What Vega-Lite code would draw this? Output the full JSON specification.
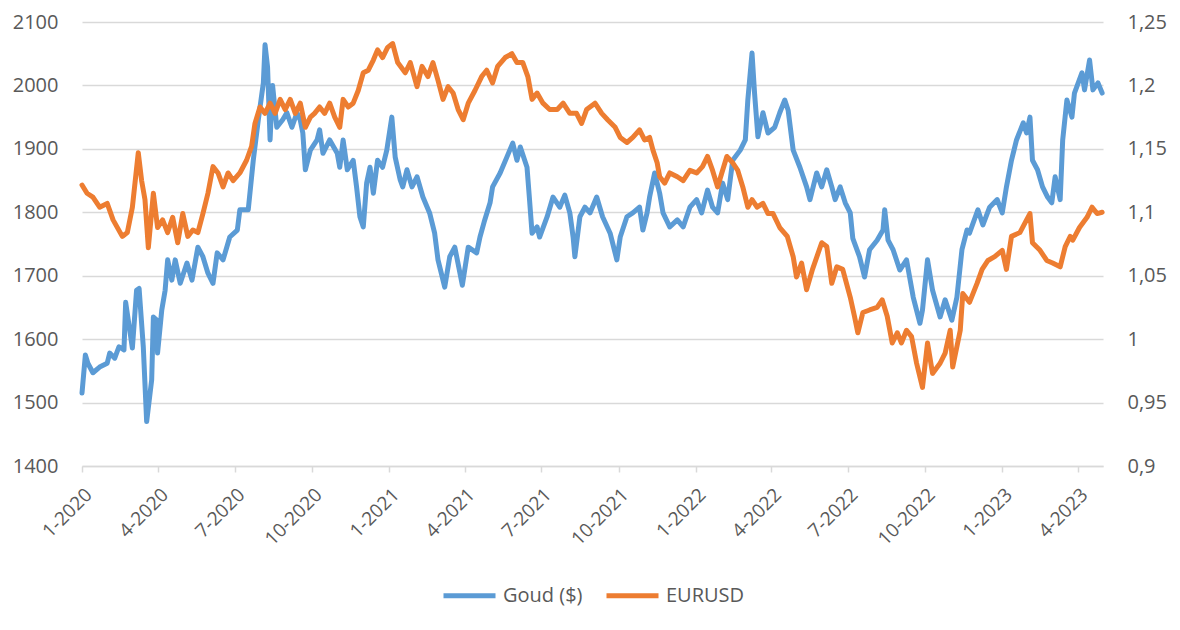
{
  "$schema": "https://vega.github.io/schema/vega-lite/v6.json",
  "width": 1021,
  "height": 444,
  "autosize": {"type": "none"},
  "padding": {"left": 82, "top": 22, "right": 77, "bottom": 164},
  "background": "white",
  "config": {"font": "Open Sans", "view": {"stroke": null}},
  "datasets": {
    "goud": [
      {"date":"2020-01-01","value":1515},{"date":"2020-01-05","value":1575},{"date":"2020-01-08","value":1562},{"date":"2020-01-14","value":1547},
      {"date":"2020-01-22","value":1556},{"date":"2020-01-31","value":1562},{"date":"2020-02-03","value":1578},{"date":"2020-02-09","value":1570},
      {"date":"2020-02-14","value":1588},{"date":"2020-02-20","value":1583},{"date":"2020-02-22","value":1658},{"date":"2020-03-01","value":1586},
      {"date":"2020-03-06","value":1677},{"date":"2020-03-09","value":1680},{"date":"2020-03-14","value":1588},{"date":"2020-03-18","value":1470},
      {"date":"2020-03-24","value":1536},{"date":"2020-03-26","value":1635},{"date":"2020-03-30","value":1630},{"date":"2020-03-31","value":1578},
      {"date":"2020-04-05","value":1646},{"date":"2020-04-09","value":1677},{"date":"2020-04-12","value":1725},{"date":"2020-04-17","value":1693},
      {"date":"2020-04-21","value":1725},{"date":"2020-04-27","value":1688},{"date":"2020-05-05","value":1720},{"date":"2020-05-11","value":1693},
      {"date":"2020-05-18","value":1745},{"date":"2020-05-24","value":1730},{"date":"2020-05-30","value":1704},{"date":"2020-06-05","value":1688},
      {"date":"2020-06-10","value":1736},{"date":"2020-06-17","value":1725},{"date":"2020-06-25","value":1761},{"date":"2020-07-04","value":1772},
      {"date":"2020-07-07","value":1804},{"date":"2020-07-17","value":1804},{"date":"2020-07-23","value":1882},{"date":"2020-07-29","value":1946},
      {"date":"2020-08-04","value":2004},{"date":"2020-08-06","value":2064},{"date":"2020-08-09","value":2029},{"date":"2020-08-12","value":1914},
      {"date":"2020-08-15","value":2000},{"date":"2020-08-20","value":1934},{"date":"2020-08-27","value":1946},{"date":"2020-09-01","value":1957},
      {"date":"2020-09-07","value":1934},{"date":"2020-09-13","value":1957},{"date":"2020-09-17","value":1945},{"date":"2020-09-20","value":1925},
      {"date":"2020-09-23","value":1867},{"date":"2020-09-29","value":1898},{"date":"2020-10-07","value":1914},{"date":"2020-10-10","value":1930},
      {"date":"2020-10-14","value":1893},{"date":"2020-10-22","value":1914},{"date":"2020-10-31","value":1893},{"date":"2020-11-03","value":1871},
      {"date":"2020-11-07","value":1914},{"date":"2020-11-12","value":1867},{"date":"2020-11-19","value":1882},{"date":"2020-11-23","value":1840},
      {"date":"2020-11-27","value":1793},{"date":"2020-12-01","value":1777},{"date":"2020-12-05","value":1846},{"date":"2020-12-09","value":1871},
      {"date":"2020-12-13","value":1830},{"date":"2020-12-18","value":1882},{"date":"2020-12-24","value":1871},{"date":"2020-12-29","value":1898},
      {"date":"2021-01-04","value":1950},{"date":"2021-01-08","value":1887},{"date":"2021-01-14","value":1851},{"date":"2021-01-17","value":1840},
      {"date":"2021-01-22","value":1867},{"date":"2021-01-28","value":1840},{"date":"2021-02-03","value":1856},{"date":"2021-02-10","value":1824},
      {"date":"2021-02-18","value":1799},{"date":"2021-02-24","value":1767},{"date":"2021-02-28","value":1725},{"date":"2021-03-08","value":1682},
      {"date":"2021-03-14","value":1730},{"date":"2021-03-20","value":1745},{"date":"2021-03-29","value":1685},{"date":"2021-04-05","value":1745},
      {"date":"2021-04-15","value":1736},{"date":"2021-04-19","value":1761},{"date":"2021-04-24","value":1785},{"date":"2021-05-01","value":1815},
      {"date":"2021-05-04","value":1840},{"date":"2021-05-13","value":1862},{"date":"2021-05-21","value":1887},{"date":"2021-05-28","value":1909},
      {"date":"2021-06-02","value":1882},{"date":"2021-06-06","value":1903},{"date":"2021-06-14","value":1871},{"date":"2021-06-17","value":1820},
      {"date":"2021-06-20","value":1767},{"date":"2021-06-26","value":1777},{"date":"2021-06-29","value":1761},{"date":"2021-07-08","value":1793},
      {"date":"2021-07-15","value":1824},{"date":"2021-07-23","value":1808},{"date":"2021-07-29","value":1827},{"date":"2021-08-04","value":1799},
      {"date":"2021-08-08","value":1760},{"date":"2021-08-10","value":1730},{"date":"2021-08-16","value":1793},{"date":"2021-08-22","value":1808},
      {"date":"2021-08-28","value":1799},{"date":"2021-09-05","value":1824},{"date":"2021-09-12","value":1793},{"date":"2021-09-21","value":1767},
      {"date":"2021-09-29","value":1725},{"date":"2021-10-03","value":1761},{"date":"2021-10-11","value":1793},{"date":"2021-10-18","value":1799},
      {"date":"2021-10-26","value":1808},{"date":"2021-10-30","value":1772},{"date":"2021-11-04","value":1799},{"date":"2021-11-07","value":1824},
      {"date":"2021-11-13","value":1862},{"date":"2021-11-19","value":1830},{"date":"2021-11-23","value":1799},{"date":"2021-12-01","value":1777},
      {"date":"2021-12-10","value":1788},{"date":"2021-12-17","value":1777},{"date":"2021-12-25","value":1808},{"date":"2022-01-02","value":1820},
      {"date":"2022-01-08","value":1799},{"date":"2022-01-15","value":1835},{"date":"2022-01-21","value":1808},{"date":"2022-01-27","value":1799},
      {"date":"2022-02-02","value":1846},{"date":"2022-02-08","value":1820},{"date":"2022-02-14","value":1882},{"date":"2022-02-23","value":1898},
      {"date":"2022-03-01","value":1914},{"date":"2022-03-04","value":1977},{"date":"2022-03-09","value":2051},{"date":"2022-03-12","value":1988},
      {"date":"2022-03-16","value":1919},{"date":"2022-03-22","value":1957},{"date":"2022-03-28","value":1925},{"date":"2022-04-05","value":1934},
      {"date":"2022-04-11","value":1957},{"date":"2022-04-17","value":1977},{"date":"2022-04-21","value":1961},{"date":"2022-04-27","value":1898},
      {"date":"2022-05-05","value":1871},{"date":"2022-05-13","value":1840},{"date":"2022-05-17","value":1820},{"date":"2022-05-25","value":1862},
      {"date":"2022-05-31","value":1840},{"date":"2022-06-06","value":1867},{"date":"2022-06-12","value":1840},{"date":"2022-06-16","value":1820},
      {"date":"2022-06-22","value":1840},{"date":"2022-06-28","value":1815},{"date":"2022-07-04","value":1799},{"date":"2022-07-07","value":1759},
      {"date":"2022-07-15","value":1730},{"date":"2022-07-21","value":1698},{"date":"2022-07-27","value":1741},{"date":"2022-08-05","value":1756},
      {"date":"2022-08-12","value":1772},{"date":"2022-08-14","value":1804},{"date":"2022-08-18","value":1756},{"date":"2022-08-24","value":1741},
      {"date":"2022-09-01","value":1709},{"date":"2022-09-09","value":1725},{"date":"2022-09-17","value":1666},{"date":"2022-09-25","value":1625},
      {"date":"2022-09-28","value":1646},{"date":"2022-10-04","value":1725},{"date":"2022-10-10","value":1677},{"date":"2022-10-19","value":1635},
      {"date":"2022-10-25","value":1662},{"date":"2022-11-02","value":1630},{"date":"2022-11-08","value":1666},{"date":"2022-11-14","value":1741},
      {"date":"2022-11-20","value":1772},{"date":"2022-11-23","value":1767},{"date":"2022-12-03","value":1804},{"date":"2022-12-09","value":1780},
      {"date":"2022-12-17","value":1808},{"date":"2022-12-26","value":1820},{"date":"2023-01-01","value":1799},{"date":"2023-01-06","value":1840},
      {"date":"2023-01-12","value":1882},{"date":"2023-01-18","value":1914},{"date":"2023-01-26","value":1941},{"date":"2023-01-30","value":1925},
      {"date":"2023-02-03","value":1950},{"date":"2023-02-06","value":1882},{"date":"2023-02-12","value":1867},{"date":"2023-02-18","value":1840},
      {"date":"2023-02-24","value":1824},{"date":"2023-03-01","value":1815},{"date":"2023-03-05","value":1856},{"date":"2023-03-11","value":1820},
      {"date":"2023-03-14","value":1914},{"date":"2023-03-19","value":1977},{"date":"2023-03-25","value":1950},{"date":"2023-03-28","value":1988},
      {"date":"2023-04-06","value":2020},{"date":"2023-04-09","value":1993},{"date":"2023-04-15","value":2040},{"date":"2023-04-19","value":1993},
      {"date":"2023-04-25","value":2004},{"date":"2023-04-30","value":1988}
    ],
    "eurusd": [
      {"date":"2020-01-01","value":1.1215},{"date":"2020-01-07","value":1.115},{"date":"2020-01-14","value":1.112},{"date":"2020-01-22","value":1.104},
      {"date":"2020-01-31","value":1.107},{"date":"2020-02-07","value":1.094},{"date":"2020-02-18","value":1.081},{"date":"2020-02-24","value":1.084},
      {"date":"2020-03-01","value":1.104},{"date":"2020-03-08","value":1.147},{"date":"2020-03-12","value":1.125},{"date":"2020-03-16","value":1.110},
      {"date":"2020-03-20","value":1.072},{"date":"2020-03-26","value":1.115},{"date":"2020-03-31","value":1.088},{"date":"2020-04-06","value":1.094},
      {"date":"2020-04-12","value":1.084},{"date":"2020-04-18","value":1.096},{"date":"2020-04-24","value":1.076},{"date":"2020-04-30","value":1.099},
      {"date":"2020-05-06","value":1.081},{"date":"2020-05-12","value":1.086},{"date":"2020-05-18","value":1.084},{"date":"2020-05-24","value":1.099},
      {"date":"2020-05-30","value":1.115},{"date":"2020-06-05","value":1.136},{"date":"2020-06-11","value":1.131},{"date":"2020-06-17","value":1.120},
      {"date":"2020-06-23","value":1.131},{"date":"2020-06-29","value":1.125},{"date":"2020-07-07","value":1.131},{"date":"2020-07-15","value":1.141},
      {"date":"2020-07-21","value":1.152},{"date":"2020-07-25","value":1.170},{"date":"2020-07-31","value":1.183},{"date":"2020-08-06","value":1.178},
      {"date":"2020-08-12","value":1.186},{"date":"2020-08-18","value":1.178},{"date":"2020-08-24","value":1.189},{"date":"2020-08-30","value":1.181},
      {"date":"2020-09-05","value":1.189},{"date":"2020-09-11","value":1.178},{"date":"2020-09-17","value":1.186},{"date":"2020-09-23","value":1.167},
      {"date":"2020-09-29","value":1.175},{"date":"2020-10-04","value":1.178},{"date":"2020-10-10","value":1.183},{"date":"2020-10-16","value":1.178},
      {"date":"2020-10-22","value":1.186},{"date":"2020-10-28","value":1.175},{"date":"2020-11-03","value":1.167},{"date":"2020-11-07","value":1.189},
      {"date":"2020-11-13","value":1.183},{"date":"2020-11-19","value":1.186},{"date":"2020-11-25","value":1.196},{"date":"2020-12-01","value":1.210},
      {"date":"2020-12-07","value":1.212},{"date":"2020-12-13","value":1.220},{"date":"2020-12-18","value":1.228},{"date":"2020-12-24","value":1.222},
      {"date":"2020-12-30","value":1.230},{"date":"2021-01-05","value":1.233},{"date":"2021-01-11","value":1.218},{"date":"2021-01-20","value":1.210},
      {"date":"2021-01-26","value":1.218},{"date":"2021-02-03","value":1.199},{"date":"2021-02-09","value":1.215},{"date":"2021-02-16","value":1.207},
      {"date":"2021-02-22","value":1.218},{"date":"2021-02-28","value":1.204},{"date":"2021-03-06","value":1.189},{"date":"2021-03-12","value":1.199},
      {"date":"2021-03-18","value":1.194},{"date":"2021-03-24","value":1.181},{"date":"2021-03-30","value":1.173},{"date":"2021-04-05","value":1.186},
      {"date":"2021-04-13","value":1.196},{"date":"2021-04-21","value":1.207},{"date":"2021-04-27","value":1.212},{"date":"2021-05-04","value":1.202},
      {"date":"2021-05-10","value":1.215},{"date":"2021-05-19","value":1.222},{"date":"2021-05-27","value":1.225},{"date":"2021-06-02","value":1.218},
      {"date":"2021-06-09","value":1.218},{"date":"2021-06-15","value":1.207},{"date":"2021-06-20","value":1.189},{"date":"2021-06-26","value":1.194},
      {"date":"2021-07-03","value":1.186},{"date":"2021-07-11","value":1.181},{"date":"2021-07-20","value":1.181},{"date":"2021-07-27","value":1.186},
      {"date":"2021-08-04","value":1.178},{"date":"2021-08-12","value":1.178},{"date":"2021-08-18","value":1.170},{"date":"2021-08-24","value":1.181},
      {"date":"2021-09-03","value":1.186},{"date":"2021-09-11","value":1.178},{"date":"2021-09-18","value":1.173},{"date":"2021-09-27","value":1.167},
      {"date":"2021-10-03","value":1.159},{"date":"2021-10-11","value":1.155},{"date":"2021-10-18","value":1.159},{"date":"2021-10-26","value":1.165},
      {"date":"2021-11-01","value":1.157},{"date":"2021-11-07","value":1.159},{"date":"2021-11-11","value":1.149},{"date":"2021-11-16","value":1.139},
      {"date":"2021-11-19","value":1.128},{"date":"2021-11-25","value":1.123},{"date":"2021-12-01","value":1.131},{"date":"2021-12-10","value":1.128},
      {"date":"2021-12-17","value":1.125},{"date":"2021-12-25","value":1.133},{"date":"2022-01-02","value":1.131},{"date":"2022-01-09","value":1.136},
      {"date":"2022-01-15","value":1.144},{"date":"2022-01-21","value":1.133},{"date":"2022-01-27","value":1.120},{"date":"2022-02-01","value":1.131},
      {"date":"2022-02-07","value":1.144},{"date":"2022-02-14","value":1.139},{"date":"2022-02-20","value":1.133},{"date":"2022-02-26","value":1.120},
      {"date":"2022-03-04","value":1.104},{"date":"2022-03-09","value":1.110},{"date":"2022-03-15","value":1.104},{"date":"2022-03-22","value":1.107},
      {"date":"2022-03-28","value":1.099},{"date":"2022-04-03","value":1.099},{"date":"2022-04-11","value":1.088},{"date":"2022-04-20","value":1.081},
      {"date":"2022-04-27","value":1.065},{"date":"2022-05-01","value":1.049},{"date":"2022-05-07","value":1.060},{"date":"2022-05-13","value":1.039},
      {"date":"2022-05-20","value":1.055},{"date":"2022-05-31","value":1.076},{"date":"2022-06-06","value":1.073},{"date":"2022-06-12","value":1.044},
      {"date":"2022-06-18","value":1.057},{"date":"2022-06-25","value":1.055},{"date":"2022-07-04","value":1.033},{"date":"2022-07-09","value":1.018},
      {"date":"2022-07-13","value":1.005},{"date":"2022-07-19","value":1.021},{"date":"2022-07-27","value":1.023},{"date":"2022-08-05","value":1.025},
      {"date":"2022-08-11","value":1.031},{"date":"2022-08-17","value":1.018},{"date":"2022-08-23","value":0.997},{"date":"2022-08-29","value":1.005},
      {"date":"2022-09-03","value":0.997},{"date":"2022-09-09","value":1.007},{"date":"2022-09-15","value":1.002},{"date":"2022-09-21","value":0.981},
      {"date":"2022-09-28","value":0.962},{"date":"2022-10-04","value":0.997},{"date":"2022-10-10","value":0.973},{"date":"2022-10-19","value":0.981},
      {"date":"2022-10-25","value":0.989},{"date":"2022-10-31","value":1.007},{"date":"2022-11-03","value":0.978},{"date":"2022-11-12","value":1.007},
      {"date":"2022-11-15","value":1.036},{"date":"2022-11-23","value":1.029},{"date":"2022-12-02","value":1.044},{"date":"2022-12-08","value":1.055},
      {"date":"2022-12-15","value":1.062},{"date":"2022-12-23","value":1.065},{"date":"2023-01-01","value":1.070},{"date":"2023-01-06","value":1.055},
      {"date":"2023-01-12","value":1.081},{"date":"2023-01-22","value":1.084},{"date":"2023-01-30","value":1.094},{"date":"2023-02-03","value":1.099},
      {"date":"2023-02-06","value":1.076},{"date":"2023-02-15","value":1.070},{"date":"2023-02-23","value":1.062},{"date":"2023-03-02","value":1.060},
      {"date":"2023-03-11","value":1.057},{"date":"2023-03-17","value":1.073},{"date":"2023-03-23","value":1.081},{"date":"2023-03-26","value":1.078},
      {"date":"2023-04-03","value":1.088},{"date":"2023-04-12","value":1.096},{"date":"2023-04-18","value":1.104},{"date":"2023-04-24","value":1.099},
      {"date":"2023-04-30","value":1.100}
    ]
  },
  "encoding": {
    "x": {
      "field": "date",
      "type": "temporal",
      "scale": {
        "type": "utc",
        "domain": [{"year": 2020, "month": 1, "date": 1, "utc": true}, {"year": 2023, "month": 5, "date": 1, "utc": true}]
      },
      "axis": {
        "title": null,
        "grid": false,
        "values": [
          {"year": 2020, "month": 1, "date": 1, "utc": true}, {"year": 2020, "month": 4, "date": 1, "utc": true},
          {"year": 2020, "month": 7, "date": 1, "utc": true}, {"year": 2020, "month": 10, "date": 1, "utc": true},
          {"year": 2021, "month": 1, "date": 1, "utc": true}, {"year": 2021, "month": 4, "date": 1, "utc": true},
          {"year": 2021, "month": 7, "date": 1, "utc": true}, {"year": 2021, "month": 10, "date": 1, "utc": true},
          {"year": 2022, "month": 1, "date": 1, "utc": true}, {"year": 2022, "month": 4, "date": 1, "utc": true},
          {"year": 2022, "month": 7, "date": 1, "utc": true}, {"year": 2022, "month": 10, "date": 1, "utc": true},
          {"year": 2023, "month": 1, "date": 1, "utc": true}, {"year": 2023, "month": 4, "date": 1, "utc": true}
        ],
        "labelExpr": "utcFormat(datum.value, '%-m-%Y')",
        "labelAngle": -45,
        "labelFontSize": 19,
        "labelColor": "#595959",
        "labelPadding": 13,
        "labelOverlap": false,
        "domainColor": "#d9d9d9",
        "domainWidth": 1.5,
        "tickColor": "#d9d9d9",
        "tickWidth": 1.5,
        "tickSize": 6
      }
    }
  },
  "layer": [
    {
      "data": {"name": "goud"},
      "mark": {"type": "line", "strokeWidth": 5, "strokeJoin": "round", "strokeCap": "round"},
      "encoding": {
        "y": {
          "field": "value",
          "type": "quantitative",
          "scale": {"domain": [1400, 2100], "zero": false, "nice": false},
          "axis": {
            "title": null,
            "orient": "left",
            "values": [1400, 1500, 1600, 1700, 1800, 1900, 2000, 2100],
            "format": "d",
            "grid": true,
            "gridColor": "#d9d9d9",
            "gridWidth": 1.5,
            "domain": false,
            "ticks": false,
            "labelPadding": 24,
            "labelFontSize": 20,
            "labelColor": "#595959"
          }
        },
        "color": {
          "datum": "Goud ($)",
          "scale": {"domain": ["Goud ($)", "EURUSD"], "range": ["#5B9BD5", "#ED7D31"]},
          "legend": {
            "title": null,
            "orient": "none",
            "legendX": 359,
            "legendY": 545,
            "direction": "horizontal",
            "symbolType": "stroke",
            "symbolSize": 2704,
            "symbolStrokeWidth": 5,
            "labelFontSize": 20,
            "labelColor": "#595959",
            "labelOffset": 5,
            "columnPadding": 13
          }
        }
      }
    },
    {
      "data": {"name": "eurusd"},
      "mark": {"type": "line", "strokeWidth": 5, "strokeJoin": "round", "strokeCap": "round"},
      "encoding": {
        "y": {
          "field": "value",
          "type": "quantitative",
          "scale": {"domain": [0.9, 1.25], "zero": false, "nice": false},
          "axis": {
            "title": null,
            "orient": "right",
            "values": [0.9, 0.95, 1, 1.05, 1.1, 1.15, 1.2, 1.25],
            "labelExpr": "replace(format(datum.value, '.2~f'), '.', ',')",
            "grid": false,
            "domain": false,
            "ticks": false,
            "labelPadding": 24,
            "labelFontSize": 20,
            "labelColor": "#595959"
          }
        },
        "color": {"datum": "EURUSD"}
      }
    }
  ],
  "resolve": {"scale": {"y": "independent"}}
}
